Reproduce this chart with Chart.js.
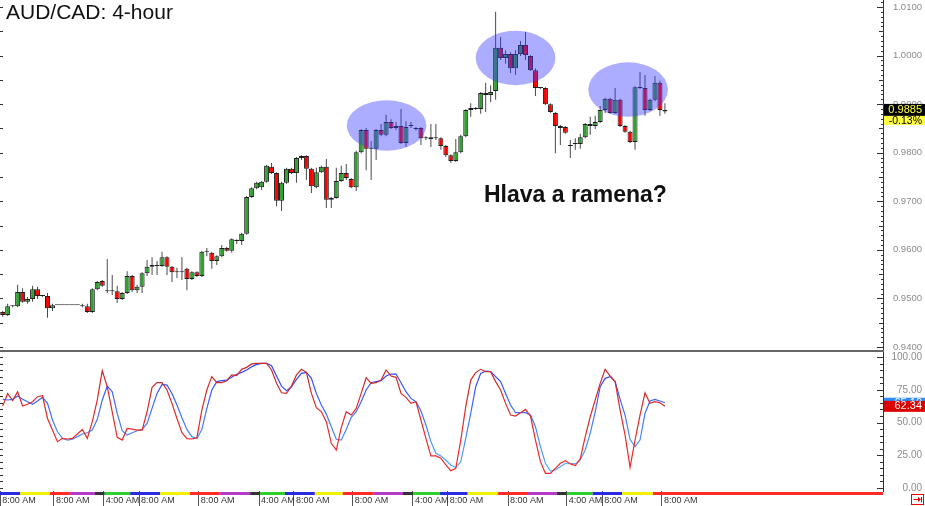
<!DOCTYPE html>
<html>
<head>
<meta charset="utf-8">
<title>AUD/CAD 4-hour</title>
<script src="https://cdn.jsdelivr.net/npm/chart.js@4.4.1/dist/chart.umd.min.js"></script>
<style>
  html, body { margin: 0; padding: 0; background: #fff; }
  #stage { position: relative; width: 925px; height: 506px; overflow: hidden; font-family: "Liberation Sans", Arial, sans-serif; }
  #priceChart { position: absolute; left: 0; top: 0; }
  #stochChart { position: absolute; left: 0; top: 352px; }
  #divider { position: absolute; left: 0; top: 350px; width: 884px; height: 2px; background: #666; }
  #title { position: absolute; left: 6px; top: 1px; font-size: 21px; line-height: 1; color: #111; }
  #note { position: absolute; left: 484px; top: 183px; font-size: 23px; line-height: 1; font-weight: bold; color: #111; }
</style>
</head>
<body>
<div id="stage">
  <canvas id="priceChart" width="925" height="350"></canvas>
  <div id="divider"></div>
  <canvas id="stochChart" width="925" height="154"></canvas>
  <div id="title">AUD/CAD: 4-hour</div>
  <div id="note">Hlava a ramena?</div>
</div>
<script>
// 4-hour candles, oldest first
const opens = [
  0.9472, 0.9466, 0.9484, 0.9484, 0.9513, 0.9493, 0.9499, 0.9519, 0.9505, 0.9505,
  0.9480, 0.9486, 0.9486, 0.9486, 0.9486, 0.9486, 0.9486, 0.9484, 0.9472, 0.9519,
  0.9536, 0.9515, 0.9515, 0.9515, 0.9499, 0.9511, 0.9546, 0.9517, 0.9524, 0.9552,
  0.9565, 0.9567, 0.9567, 0.9585, 0.9565, 0.9554, 0.9554, 0.9561, 0.9540, 0.9554,
  0.9546, 0.9596, 0.9594, 0.9577, 0.9587, 0.9604, 0.9598, 0.9620, 0.9618, 0.9633,
  0.9709, 0.9727, 0.9729, 0.9740, 0.9771, 0.9758, 0.9701, 0.9738, 0.9767, 0.9758,
  0.9789, 0.9793, 0.9767, 0.9729, 0.9760, 0.9771, 0.9703, 0.9707, 0.9742, 0.9758,
  0.9746, 0.9729, 0.9801, 0.9847, 0.9808, 0.9808, 0.9847, 0.9837, 0.9863, 0.9851,
  0.9855, 0.9820, 0.9855, 0.9849, 0.9851, 0.9830, 0.9832, 0.9830, 0.9830, 0.9814,
  0.9795, 0.9783, 0.9801, 0.9834, 0.9888, 0.9892, 0.9890, 0.9923, 0.9919, 0.9927,
  1.0016, 0.9995, 1.0003, 0.9974, 1.0003, 1.0022, 0.9999, 0.9970, 0.9933, 0.9933,
  0.9900, 0.9882, 0.9855, 0.9853, 0.9814, 0.9818, 0.9818, 0.9832, 0.9859, 0.9855,
  0.9863, 0.9888, 0.9911, 0.9882, 0.9909, 0.9855, 0.9843, 0.9822, 0.9935, 0.9933,
  0.9888, 0.9909, 0.9944, 0.9888
];
const highs = [
  0.9474, 0.9489, 0.9486, 0.9528, 0.9521, 0.9503, 0.9526, 0.9524, 0.9507, 0.9511,
  0.9489, 0.9486, 0.9486, 0.9486, 0.9486, 0.9486, 0.9489, 0.9489, 0.9521, 0.9536,
  0.9538, 0.9581, 0.9548, 0.9526, 0.9513, 0.9556, 0.9548, 0.9528, 0.9554, 0.9579,
  0.9585, 0.9577, 0.9596, 0.9587, 0.9567, 0.9563, 0.9585, 0.9563, 0.9556, 0.9556,
  0.9598, 0.9604, 0.9596, 0.9589, 0.9610, 0.9606, 0.9624, 0.9622, 0.9635, 0.9711,
  0.9729, 0.9740, 0.9742, 0.9775, 0.9779, 0.9760, 0.9740, 0.9769, 0.9769, 0.9791,
  0.9795, 0.9795, 0.9769, 0.9769, 0.9773, 0.9787, 0.9709, 0.9769, 0.9773, 0.9777,
  0.9748, 0.9804, 0.9849, 0.9851, 0.9824, 0.9849, 0.9859, 0.9878, 0.9869, 0.9863,
  0.9890, 0.9865, 0.9863, 0.9853, 0.9853, 0.9834, 0.9859, 0.9859, 0.9832, 0.9816,
  0.9797, 0.9828, 0.9837, 0.9890, 0.9902, 0.9894, 0.9925, 0.9944, 0.9939, 1.0090,
  1.0038, 1.0011, 1.0007, 1.0011, 1.0030, 1.0049, 1.0001, 0.9974, 0.9935, 0.9935,
  0.9902, 0.9884, 0.9857, 0.9855, 0.9826, 0.9830, 0.9839, 0.9861, 0.9874, 0.9876,
  0.9896, 0.9913, 0.9913, 0.9933, 0.9911, 0.9857, 0.9845, 0.9937, 0.9966, 0.9960,
  0.9911, 0.9958, 0.9948, 0.9902
];
const lows = [
  0.9462, 0.9464, 0.9482, 0.9482, 0.9491, 0.9489, 0.9493, 0.9499, 0.9503, 0.9460,
  0.9474, 0.9486, 0.9486, 0.9486, 0.9486, 0.9486, 0.9482, 0.9470, 0.9470, 0.9517,
  0.9524, 0.9511, 0.9507, 0.9491, 0.9497, 0.9509, 0.9513, 0.9511, 0.9511, 0.9546,
  0.9548, 0.9548, 0.9565, 0.9548, 0.9534, 0.9542, 0.9538, 0.9517, 0.9538, 0.9544,
  0.9544, 0.9587, 0.9561, 0.9569, 0.9585, 0.9596, 0.9594, 0.9612, 0.9610, 0.9631,
  0.9707, 0.9725, 0.9723, 0.9738, 0.9756, 0.9690, 0.9680, 0.9736, 0.9756, 0.9738,
  0.9785, 0.9744, 0.9717, 0.9727, 0.9758, 0.9686, 0.9686, 0.9705, 0.9740, 0.9744,
  0.9727, 0.9721, 0.9799, 0.9764, 0.9744, 0.9785, 0.9834, 0.9834, 0.9849, 0.9847,
  0.9818, 0.9812, 0.9851, 0.9845, 0.9816, 0.9826, 0.9812, 0.9826, 0.9806, 0.9791,
  0.9779, 0.9781, 0.9799, 0.9832, 0.9874, 0.9888, 0.9880, 0.9884, 0.9904, 0.9909,
  0.9991, 0.9983, 0.9964, 0.9960, 0.9999, 0.9991, 0.9968, 0.9917, 0.9931, 0.9898,
  0.9882, 0.9799, 0.9816, 0.9839, 0.9789, 0.9806, 0.9808, 0.9830, 0.9837, 0.9849,
  0.9861, 0.9882, 0.9880, 0.9880, 0.9853, 0.9841, 0.9820, 0.9806, 0.9931, 0.9876,
  0.9886, 0.9906, 0.9876, 0.9880
];
const closes = [
  0.9466, 0.9484, 0.9484, 0.9513, 0.9493, 0.9499, 0.9519, 0.9505, 0.9505, 0.9480,
  0.9486, 0.9486, 0.9486, 0.9486, 0.9486, 0.9486, 0.9484, 0.9472, 0.9519, 0.9534,
  0.9526, 0.9515, 0.9515, 0.9499, 0.9511, 0.9546, 0.9517, 0.9524, 0.9552, 0.9565,
  0.9569, 0.9567, 0.9585, 0.9565, 0.9554, 0.9554, 0.9554, 0.9540, 0.9554, 0.9546,
  0.9596, 0.9596, 0.9577, 0.9587, 0.9604, 0.9598, 0.9622, 0.9618, 0.9633, 0.9709,
  0.9727, 0.9738, 0.9740, 0.9773, 0.9758, 0.9701, 0.9738, 0.9767, 0.9758, 0.9789,
  0.9793, 0.9767, 0.9731, 0.9760, 0.9771, 0.9703, 0.9707, 0.9742, 0.9758, 0.9748,
  0.9729, 0.9801, 0.9847, 0.9808, 0.9808, 0.9847, 0.9837, 0.9863, 0.9851, 0.9855,
  0.9820, 0.9853, 0.9857, 0.9849, 0.9830, 0.9832, 0.9828, 0.9830, 0.9814, 0.9795,
  0.9783, 0.9801, 0.9834, 0.9888, 0.9892, 0.9890, 0.9923, 0.9919, 0.9925, 1.0016,
  0.9995, 1.0003, 0.9974, 1.0003, 1.0022, 1.0001, 0.9970, 0.9933, 0.9933, 0.9900,
  0.9884, 0.9855, 0.9851, 0.9841, 0.9814, 0.9818, 0.9832, 0.9859, 0.9855, 0.9863,
  0.9888, 0.9911, 0.9882, 0.9909, 0.9855, 0.9843, 0.9822, 0.9935, 0.9933, 0.9888,
  0.9909, 0.9944, 0.9888, 0.9885
];
const changePct = -0.13;

// stochastic oscillator, red %K and blue %D
const stochK = [
  62.6, 72.2, 66.7, 73.5, 62.6, 63.9, 65.9, 69.7, 70.4, 53.1,
  44.2, 35.4, 37.9, 37.4, 37.9, 41.2, 44.7, 37.9, 50.6, 67.2,
  89.6, 77.3, 58.2, 38.7, 36.6, 45.5, 45.0, 44.2, 44.2, 58.2,
  76.8, 80.4, 80.4, 74.8, 64.6, 53.1, 42.2, 37.7, 37.4, 38.4,
  59.5, 74.8, 85.0, 80.4, 80.4, 81.9, 86.3, 85.8, 90.6, 92.1,
  94.7, 95.2, 95.2, 95.2, 90.1, 79.9, 72.7, 72.2, 77.8, 86.3,
  90.6, 88.3, 72.2, 61.3, 58.2, 50.6, 34.1, 29.0, 46.3, 58.2,
  55.7, 60.8, 72.2, 84.2, 79.9, 80.4, 82.4, 90.1, 85.5, 84.5,
  72.2, 69.2, 64.6, 65.9, 51.9, 37.9, 24.5, 24.5, 22.7, 17.6,
  13.2, 15.0, 36.6, 62.1, 82.4, 88.1, 90.6, 88.8, 88.8, 81.2,
  74.8, 64.6, 55.7, 54.9, 57.5, 60.0, 54.9, 36.6, 20.1, 11.2,
  11.2, 15.0, 18.9, 20.9, 18.4, 17.1, 22.2, 39.2, 54.4, 67.2,
  79.9, 90.6, 85.5, 81.2, 59.5, 40.4, 15.8, 36.6, 55.7, 72.7,
  64.6, 65.9, 65.1, 62.34
];
const stochD = [
  67.7, 67.2, 67.7, 70.2, 67.7, 65.9, 63.9, 66.4, 69.2, 64.6,
  51.9, 42.9, 37.9, 36.6, 37.2, 39.2, 41.2, 42.2, 44.2, 52.4,
  67.2, 77.8, 73.5, 56.9, 43.7, 40.4, 42.2, 43.7, 44.7, 49.3,
  60.8, 72.2, 79.1, 78.6, 72.2, 63.3, 53.6, 44.7, 39.2, 37.7,
  44.7, 60.8, 74.8, 81.2, 81.9, 82.4, 84.5, 86.8, 88.3, 90.1,
  92.6, 94.4, 95.2, 95.2, 93.4, 85.5, 77.8, 74.2, 77.3, 82.9,
  87.5, 88.3, 83.7, 72.2, 63.3, 56.4, 46.8, 37.2, 36.6, 44.7,
  53.9, 58.2, 65.9, 74.8, 80.4, 81.2, 81.9, 85.5, 87.0, 87.0,
  80.4, 73.5, 68.4, 65.9, 59.0, 48.1, 35.4, 26.5, 24.5, 21.4,
  17.6, 15.6, 20.1, 37.9, 56.9, 77.3, 87.5, 89.3, 88.8, 85.0,
  81.2, 72.2, 63.3, 57.5, 57.5, 57.5, 55.7, 46.8, 31.6, 18.9,
  13.0, 13.8, 16.3, 18.9, 18.9, 18.4, 21.4, 29.0, 41.7, 58.2,
  77.3, 83.7, 85.0, 81.2, 67.7, 55.7, 37.2, 31.6, 36.6, 56.9,
  66.4, 67.7, 66.4, 65.1
];

// time axis (positions in candle index units)
const timeTicks = [-0.5, 10.3, 20.3, 27.4, 39.4, 51.5, 58.5, 70.3, 82.4, 89.4, 101.5, 113.3, 120.4, 132.4];
const timeLabels = ['8:00 AM', '8:00 AM', '4:00 AM', '8:00 AM', '8:00 AM', '4:00 AM', '8:00 AM',
                    '8:00 AM', '4:00 AM', '8:00 AM', '8:00 AM', '4:00 AM', '8:00 AM', '8:00 AM'];

// trading session strip under the oscillator
const sessionEdges = [-0.54, 3.5, 9.5, 13.5, 18.5, 20.5, 25.6, 31.6, 37.6, 43.6, 49.7, 51.7, 56.7, 62.7,
                      68.3, 74.4, 80.4, 82.4, 87.8, 93.4, 99.5, 105.3, 111.3, 113.3, 118.5, 124.4, 130.6, 176.8];
const sessionNames = ['asia', 'europe', 'us', 'late', 'close', 'open',
                      'asia', 'europe', 'us', 'late', 'close', 'open',
                      'asia', 'europe', 'us', 'late', 'close', 'open',
                      'asia', 'europe', 'us', 'late', 'close', 'open',
                      'asia', 'europe', 'us'];

// head and shoulders highlights: centre (index, price) and radii
const ellipseX  = [77.1, 103.0, 125.6];
const ellipseY  = [0.9856, 0.9995, 0.9930];
const ellipseRX = [8.0, 8.0, 8.0];
const ellipseRY = [0.0052, 0.0056, 0.0056];


const X_MIN = -0.54, X_MAX = 176.8;
const AXIS_W = 39;
const GREEN = '#33a033', RED = '#ff0000';
const SESSION_COLORS = { asia: '#2a2ae0', europe: '#f4f000', us: '#ff2a2a', late: '#b63cc8', close: '#333333', open: '#2ed02e' };

Chart.defaults.font.family = '"Liberation Sans", Arial, sans-serif';

const candleIdx = opens.map((_, i) => i);
const isUp = i => closes[i] >= opens[i];
const isStep = (v, step) => Math.abs(v / step - Math.round(v / step)) < 1e-6;

function fixRightAxis(scale) {
  scale.width = AXIS_W;
  scale.paddingTop = 0;
  scale.paddingBottom = 0;
}

function vGrad(chart, top, bottom) {
  const { ctx, chartArea } = chart;
  if (!chartArea) return top;
  const g = ctx.createLinearGradient(0, chartArea.top, 0, chartArea.bottom);
  g.addColorStop(0, top);
  g.addColorStop(1, bottom);
  return g;
}

// small tick marks drawn on the inside of the plot edges
function edgeTicks(name, steps, leftStep) {
  return {
    id: 'edgeTicks_' + name,
    afterDraw(chart) {
      const scale = chart.scales.y;
      const { left, right } = chart.chartArea;
      const ctx = chart.ctx;
      ctx.save();
      ctx.strokeStyle = '#333';
      ctx.lineWidth = 1;
      ctx.beginPath();
      scale.ticks.forEach(t => {
        const step = steps.find(s => isStep(t.value, s[0]));
        if (!step) return;
        const y = Math.round(scale.getPixelForValue(t.value)) + 0.5;
        ctx.moveTo(right - step[1], y);
        ctx.lineTo(right, y);
        if (isStep(t.value, leftStep)) {
          ctx.moveTo(left, y);
          ctx.lineTo(left + 3, y);
        }
      });
      ctx.stroke();
      ctx.restore();
    }
  };
}

const shoulders = {
  id: 'shoulders',
  afterDatasetsDraw(chart) {
    const { ctx, scales: { x, y } } = chart;
    ctx.save();
    ctx.fillStyle = 'rgba(60, 60, 255, 0.42)';
    ellipseX.forEach((cx, k) => {
      const px = x.getPixelForValue(cx);
      const py = y.getPixelForValue(ellipseY[k]);
      const rx = x.getPixelForValue(cx + ellipseRX[k]) - px;
      const ry = py - y.getPixelForValue(ellipseY[k] + ellipseRY[k]);
      ctx.beginPath();
      ctx.ellipse(px, py, rx, ry, 0, 0, Math.PI * 2);
      ctx.fill();
    });
    ctx.restore();
  }
};

const priceTag = {
  id: 'priceTag',
  afterDraw(chart) {
    const { ctx } = chart;
    const x0 = chart.chartArea.right + 1, w = chart.width - x0;
    const last = closes[closes.length - 1];
    const y = chart.scales.y.getPixelForValue(last);
    ctx.save();
    ctx.fillStyle = '#000';
    ctx.fillRect(x0, y - 7.5, w, 12);
    ctx.fillStyle = '#ffff40';
    ctx.fillRect(x0, y + 4.5, w, 9);
    ctx.textAlign = 'right';
    ctx.textBaseline = 'middle';
    ctx.font = '11px "Liberation Sans", Arial';
    ctx.fillStyle = '#ffff40';
    ctx.fillText(last.toFixed(4), 922, y - 1.2);
    ctx.font = '10.5px "Liberation Sans", Arial';
    ctx.fillStyle = '#000';
    ctx.fillText(changePct.toFixed(2) + '%', 922, y + 9.3);
    ctx.restore();
  }
};

const stochTags = {
  id: 'stochTags',
  afterDraw(chart) {
    const { ctx, chartArea } = chart;
    const ys = chart.scales.y, xs = chart.scales.x;
    const x0 = chartArea.right + 1, w = chart.width - x0;
    const d = stochD[stochD.length - 1], k = stochK[stochK.length - 1];
    const yd = ys.getPixelForValue(d), yk = ys.getPixelForValue(k);
    ctx.save();
    ctx.textAlign = 'right';
    ctx.textBaseline = 'middle';
    ctx.font = '11px "Liberation Sans", Arial';
    ctx.fillStyle = '#2f8cff';
    ctx.fillRect(x0, yd - 5, w, 10);
    ctx.fillStyle = '#fff';
    ctx.fillText(d.toFixed(2), 922, yd);
    ctx.fillStyle = '#dd0000';
    ctx.fillRect(x0, yk - 5.5, w, 11);
    ctx.fillStyle = '#fff';
    ctx.fillText(k.toFixed(2), 922, yk);

    // session colour strip
    const top = chartArea.bottom + 1;
    sessionNames.forEach((s, j) => {
      const a = xs.getPixelForValue(sessionEdges[j]);
      const b = xs.getPixelForValue(sessionEdges[j + 1]);
      ctx.fillStyle = SESSION_COLORS[s];
      ctx.fillRect(a, top, b - a, 3);
    });

    // scroll-to-end button
    ctx.strokeStyle = '#e00';
    ctx.fillStyle = '#e00';
    ctx.lineWidth = 1;
    ctx.strokeRect(911.5, 142.5, 12, 10);
    ctx.beginPath();
    ctx.moveTo(913.5, 147.5); ctx.lineTo(919, 147.5);
    ctx.moveTo(921.5, 145); ctx.lineTo(921.5, 150.5);
    ctx.stroke();
    ctx.beginPath();
    ctx.moveTo(918, 145); ctx.lineTo(921, 147.5); ctx.lineTo(918, 150);
    ctx.fill();
    ctx.restore();
  }
};


new Chart(document.getElementById('priceChart'), {
  type: 'bar',
  data: {
    datasets: [
      {
        label: 'body',
        data: candleIdx.map(i => ({ x: i, y: [opens[i], closes[i]] })),
        backgroundColor: c => isUp(c.dataIndex) ? GREEN : RED,
        borderColor: '#1e1e1e',
        borderWidth: 1,
        borderSkipped: false,
        barThickness: 5,
        minBarLength: 1,
        inflateAmount: 0,
        grouped: false,
        order: 0
      },
      {
        label: 'wick',
        data: candleIdx.map(i => ({ x: i, y: [lows[i], highs[i]] })),
        backgroundColor: '#4a4a4a',
        barThickness: 1,
        inflateAmount: 0,
        grouped: false,
        order: 1
      }
    ]
  },
  options: {
    responsive: false,
    animation: false,
    events: [],
    layout: { padding: { right: 3 } },
    plugins: { legend: { display: false }, tooltip: { enabled: false } },
    scales: {
      x: { type: 'linear', min: X_MIN, max: X_MAX, offset: false, display: false, grid: { offset: false } },
      y: {
        position: 'right',
        min: 0.93938,
        max: 1.01144,
        afterFit: fixRightAxis,
        ticks: {
          stepSize: 0.001,
          includeBounds: false,
          autoSkip: false,
          crossAlign: 'far',
          padding: 10,
          color: '#8c8c8c',
          font: { size: 9.5 },
          callback: v => isStep(v, 0.01) ? v.toFixed(4) : ''
        },
        grid: { drawOnChartArea: false, drawTicks: false },
        border: { color: '#333' }
      }
    }
  },
  plugins: [shoulders, priceTag, edgeTicks('price', [[0.01, 6], [0.005, 4], [0.001, 2]], 0.005)]
});


new Chart(document.getElementById('stochChart'), {
  type: 'line',
  data: {
    datasets: [
      {
        label: '%K',
        data: candleIdx.map(i => ({ x: i, y: stochK[i] })),
        borderColor: c => vGrad(c.chart, '#c42a2a', '#ff2b2b'),
        borderWidth: 1.2,
        pointRadius: 0,
        tension: 0
      },
      {
        label: '%D',
        data: candleIdx.map(i => ({ x: i, y: stochD[i] })),
        borderColor: c => vGrad(c.chart, '#2a30ff', '#58c4ff'),
        borderWidth: 1.2,
        pointRadius: 0,
        tension: 0
      }
    ]
  },
  options: {
    responsive: false,
    animation: false,
    events: [],
    layout: { padding: { right: 3 } },
    plugins: { legend: { display: false }, tooltip: { enabled: false } },
    scales: {
      x: {
        type: 'linear',
        min: X_MIN,
        max: X_MAX,
        offset: false,
        afterBuildTicks: s => { s.ticks = timeTicks.map(v => ({ value: v })); },
        afterFit: s => { s.height = 15; s.paddingLeft = 0; s.paddingRight = 0; },
        ticks: {
          autoSkip: false,
          maxRotation: 0,
          minRotation: 0,
          align: 'start',
          padding: -11,
          labelOffset: 2,
          color: '#333',
          font: { size: 9 },
          callback: (v, i) => timeLabels[i]
        },
        grid: { drawOnChartArea: false, drawTicks: true, tickLength: 15, color: '#555', offset: false },
        border: { display: false }
      },
      y: {
        position: 'right',
        min: -2.29,
        max: 103.82,
        afterFit: fixRightAxis,
        ticks: {
          stepSize: 5,
          includeBounds: false,
          autoSkip: false,
          crossAlign: 'far',
          padding: 8,
          color: '#8c8c8c',
          font: { size: 10 },
          callback: v => isStep(v, 25) ? v.toFixed(2) : ''
        },
        grid: { drawOnChartArea: false, drawTicks: false },
        border: { color: '#333' }
      }
    }
  },
  plugins: [stochTags, edgeTicks('stoch', [[25, 6], [5, 3]], 5)]
});
</script>
</body>
</html>
